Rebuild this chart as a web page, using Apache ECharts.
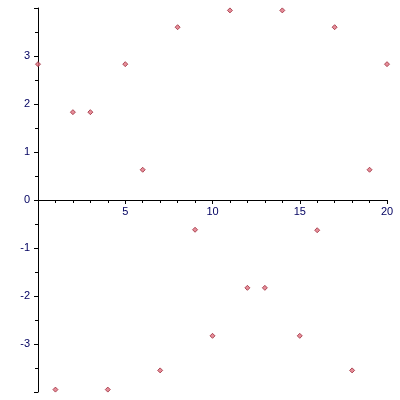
<!DOCTYPE html>
<html><head><meta charset="utf-8">
<script src="https://cdn.jsdelivr.net/npm/echarts@6/dist/echarts.min.js"></script>
<style>body{margin:0}#c{width:400px;height:400px}</style></head>
<body><div id="c"></div>
<script>
const xs = [0,1,2,3,4,5,6,7,8,9,10,11,12,13,14,15,16,17,18,19,20]
const ys = [2.83,-3.95,1.83,1.83,-3.95,2.83,0.63,-3.55,3.6,-0.62,-2.83,3.95,-1.83,-1.83,3.95,-2.83,-0.63,3.6,-3.55,0.63,2.83]

const points = xs.map((x, i) => [x, ys[i]])
const chart = echarts.init(document.getElementById('c'))
const axisText = { color: '#000060', fontFamily: 'Liberation Sans', fontSize: 11 }
// grid height 384, y range -4..4, so zero sits 192px above the bottom
chart.setOption({
  animation: false,
  grid: { left: 38, right: 13, top: 8, bottom: 8 },
  xAxis: {
    type: 'value', min: 0, max: 20, interval: 5, position: 'bottom', offset: -192,
    axisLine: { onZero: false, lineStyle: { color: '#000' } },
    axisTick: { length: 4, lineStyle: { color: '#000' } },
    minorTick: { show: true, splitNumber: 5, length: 3, lineStyle: { color: '#000' } },
    axisLabel: Object.assign({ showMinLabel: false, margin: 6 }, axisText),
    splitLine: { show: false }
  },
  yAxis: {
    type: 'value', min: -4, max: 4, interval: 1,
    axisLine: { onZero: false, lineStyle: { color: '#000' } },
    axisTick: { length: 4, lineStyle: { color: '#000' } },
    minorTick: { show: true, splitNumber: 2, length: 3, lineStyle: { color: '#000' } },
    axisLabel: Object.assign({ showMinLabel: false, showMaxLabel: false }, axisText),
    splitLine: { show: false }
  },
  series: [{
    type: 'scatter', data: points, symbol: 'diamond', symbolSize: 5,
    itemStyle: { color: '#e07080', borderColor: '#9c2a3a', borderWidth: 1 }
  }]
})
</script></body></html>
